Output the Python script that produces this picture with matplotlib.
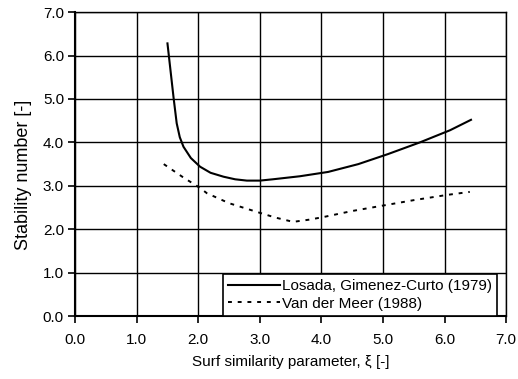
import matplotlib
matplotlib.use('Agg')
import matplotlib.pyplot as plt

# Losada, Gimenez-Curto (1979)
losada_x = [1.50, 1.55, 1.60, 1.65, 1.70, 1.76, 1.88, 2.03, 2.20, 2.41, 2.60, 2.79, 3.00, 3.21, 3.65, 4.11, 4.60, 5.08, 5.60, 6.09, 6.43]
losada_y = [6.28, 5.65, 5.02, 4.44, 4.12, 3.90, 3.64, 3.44, 3.30, 3.21, 3.15, 3.12, 3.12, 3.15, 3.22, 3.32, 3.50, 3.73, 4.00, 4.28, 4.52]

# Van der Meer (1988)
vdm_x = [1.44, 1.75, 2.03, 2.14, 2.50, 2.95, 3.25, 3.54, 3.80, 4.03, 4.50, 5.06, 5.50, 6.04, 6.41]
vdm_y = [3.50, 3.20, 2.95, 2.83, 2.60, 2.40, 2.27, 2.17, 2.22, 2.28, 2.42, 2.56, 2.67, 2.79, 2.86]

x_ticks = [0, 1, 2, 3, 4, 5, 6, 7]
y_ticks = [0, 1, 2, 3, 4, 5, 6, 7]

plt.rcParams['font.family'] = ['Liberation Sans', 'DejaVu Sans']

fig = plt.figure(figsize=(5.18, 3.79), dpi=100)
ax = fig.add_axes([0.145, 0.166, 0.832, 0.802])

ax.plot(losada_x, losada_y, color='black', lw=1.5, label='Losada, Gimenez-Curto (1979)')
ax.plot(vdm_x, vdm_y, color='black', lw=1.4, linestyle=(0, (2, 3)), label='Van der Meer (1988)')

ax.set_xlim(0, 7)
ax.set_ylim(0, 7)
ax.set_xticks(x_ticks)
ax.set_yticks(y_ticks)
ax.set_xticklabels([f'{v:.1f}' for v in x_ticks], fontsize=11)
ax.set_yticklabels([f'{v:.1f}' for v in y_ticks], fontsize=11)
ax.tick_params(direction='out', length=5, color='black', width=1.2)
ax.tick_params(axis='x', pad=7)
ax.tick_params(axis='y', pad=3)
ax.grid(True, color='black', lw=1.0)
ax.set_axisbelow(True)
for s in ax.spines.values():
    s.set_color('black')
    s.set_linewidth(1.0)
ax.spines['left'].set_linewidth(1.5)
ax.spines['bottom'].set_linewidth(1.5)

ax.set_xlabel('Surf similarity parameter, ξ [-]', fontsize=11, labelpad=6)
ax.set_ylabel('Stability number [-]', fontsize=13)
ax.yaxis.set_label_coords(-0.10, 0.464)

leg = ax.legend(loc='lower right', fontsize=11, frameon=True, fancybox=False,
                edgecolor='black', framealpha=1, borderpad=0.35, labelspacing=0.25,
                handlelength=3.4, handletextpad=0.1, borderaxespad=0.0,
                bbox_to_anchor=(0.979, 0.0))
leg.get_frame().set_linewidth(1.2)

fig.savefig('out.png', dpi=100)
